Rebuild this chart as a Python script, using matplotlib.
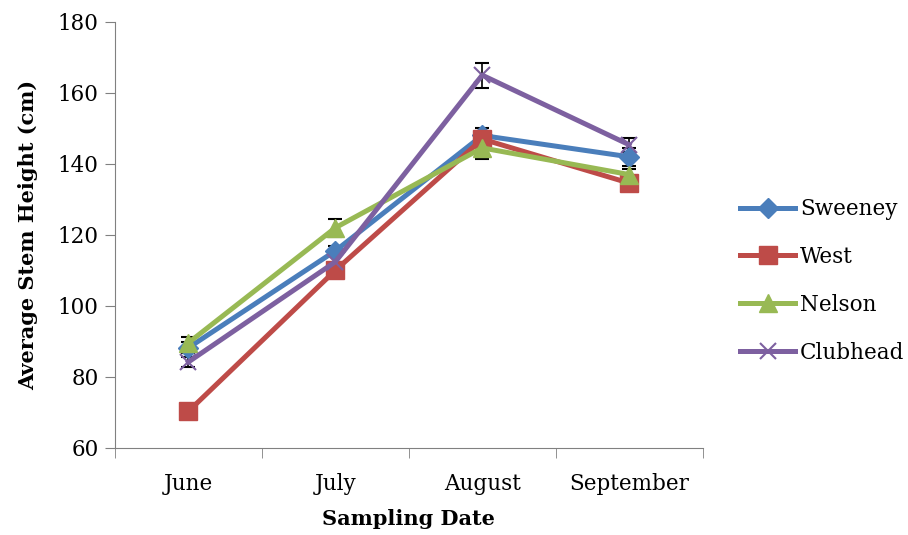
import matplotlib.pyplot as plt
import numpy as np

months = ['June', 'July', 'August', 'September']
sweeney = [88.2, 115.5, 148.0, 142.0]
west = [70.3, 110.0, 147.0, 134.6]
nelson = [89.6, 122.0, 144.5, 137.0]
clubhead = [84.2, 112.4, 165.0, 145.4]
sweeney_err = [1.5, 1.5, 2.0, 2.5]
west_err = [1.0, 1.5, 2.0, 1.5]
nelson_err = [1.5, 2.5, 3.0, 1.5]
clubhead_err = [1.5, 2.0, 3.5, 2.0]

plt.rcParams['font.family'] = ['DejaVu Serif']

fig = plt.figure(figsize=(9.08, 5.35), dpi=100)
ax = fig.add_axes([0.1267, 0.163, 0.647, 0.796])

x = np.arange(len(months))
series = [
    ('Sweeney', sweeney, sweeney_err, '#4a7ebb', 'D', 10),
    ('West', west, west_err, '#be4b48', 's', 13),
    ('Nelson', nelson, nelson_err, '#98b954', '^', 13),
    ('Clubhead', clubhead, clubhead_err, '#7d60a0', 'x', 12),
]
for name, vals, err, col, mk, ms in series:
    ax.errorbar(x, vals, yerr=err, fmt='none', ecolor='black', elinewidth=1.2,
                capsize=5, capthick=1.5, zorder=1)
    ax.plot(x, vals, color=col, lw=3.6, marker=mk, markersize=ms,
            markeredgewidth=1.5 if mk == 'x' else 1, markeredgecolor=col,
            label=name, zorder=2)

ax.set_xlim(-0.5, 3.5)
ax.set_ylim(60, 180)
ax.set_yticks(range(60, 181, 20))
ax.set_xticks(x)
ax.set_xticklabels(months)
ax.set_xticks(np.arange(-0.5, 3.6, 1), minor=True)
ax.tick_params(axis='x', which='major', length=0, pad=18, labelsize=15.5)
ax.tick_params(axis='x', which='minor', length=7, direction='out')
ax.tick_params(axis='y', length=7, direction='out', labelsize=15.5, pad=5)
for s in ['top', 'right']:
    ax.spines[s].set_visible(False)
for s in ['left', 'bottom']:
    ax.spines[s].set_color('#808080')
ax.tick_params(which='both', color='#808080')

ax.set_xlabel('Sampling Date', fontsize=15, fontweight='bold', labelpad=10)
ax.set_ylabel('Average Stem Height (cm)', fontsize=15, fontweight='bold', labelpad=14)

ax.legend(loc='center left', bbox_to_anchor=(1.03, 0.392), frameon=False,
          fontsize=15.5, handlelength=2.6, handletextpad=0.2, labelspacing=1.2)

fig.savefig('out.png', dpi=100)
